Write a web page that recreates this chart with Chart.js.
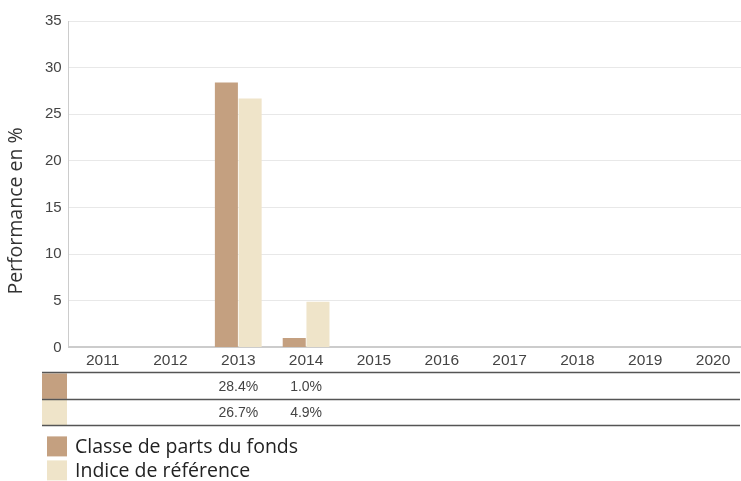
<!DOCTYPE html>
<html>
<head>
<meta charset="utf-8">
<script src="https://cdn.jsdelivr.net/npm/chart.js@4.4.0/dist/chart.umd.min.js"></script>
<style>
    html, body { margin: 0; padding: 0; background: #fff; }
    #wrap { width: 741px; height: 481px; position: relative; overflow: hidden; }
</style>
</head>
<body>
<div id="wrap"><canvas id="chart" width="747" height="481"></canvas></div>
<script>
var years = ['2011', '2012', '2013', '2014', '2015', '2016', '2017', '2018', '2019', '2020'];
var fundValues = [null, null, 28.4, 1.0, null, null, null, null, null, null];
var indexValues = [null, null, 26.7, 4.9, null, null, null, null, null, null];
var seriesNames = ['Classe de parts du fonds', 'Indice de référence'];
var seriesColors = ['#c4a080', '#efe4c9'];
var axisTitle = 'Performance en %';

// y title, table under the axis + legend, drawn on the canvas
var tablePlugin = {
    id: 'perfTable',
    afterDraw: function (chart) {
        var ctx = chart.ctx;
        var x = chart.scales.x;
        var area = chart.chartArea;
        var top = area.bottom + 25;
        var rowH = 26.5;
        var left = 42;
        var right = 740;

        ctx.save();
        // axis title
        ctx.save();
        ctx.translate(16, 211);
        ctx.rotate(-Math.PI / 2);
        ctx.font = '19.5px "Open Sans", sans-serif';
        ctx.fillStyle = '#333';
        ctx.textAlign = 'center';
        ctx.textBaseline = 'middle';
        ctx.fillText(axisTitle, 0, 0);
        ctx.restore();

        chart.data.datasets.forEach(function (ds, i) {
            var y0 = top + i * rowH;
            ctx.fillStyle = ds.backgroundColor;
            ctx.fillRect(left, y0 + 1, 25, rowH - 1);

            ctx.font = '14px "Liberation Sans", Arial, sans-serif';
            ctx.fillStyle = '#444';
            ctx.textAlign = 'center';
            ctx.textBaseline = 'middle';
            ds.data.forEach(function (v, j) {
                if (v === null) return;
                ctx.fillText(v.toFixed(1) + '%', x.getPixelForValue(j), y0 + rowH / 2 + 1);
            });
        });

        ctx.strokeStyle = '#555';
        ctx.lineWidth = 1.5;
        for (var k = 0; k <= chart.data.datasets.length; k++) {
            var ly = Math.round(top + k * rowH) + 0.5;
            ctx.beginPath();
            ctx.moveTo(left, ly);
            ctx.lineTo(right, ly);
            ctx.stroke();
        }

        // legend
        var ly0 = top + chart.data.datasets.length * rowH + 11;
        chart.data.datasets.forEach(function (ds, i) {
            var yy = ly0 + i * 24;
            ctx.fillStyle = ds.backgroundColor;
            ctx.fillRect(47, yy, 20, 20);
            ctx.fillStyle = '#222';
            ctx.font = '19.5px "Open Sans", sans-serif';
            ctx.textAlign = 'left';
            ctx.textBaseline = 'middle';
            ctx.fillText(ds.label, 75, yy + 11);
        });
        ctx.restore();
    }
};

var ctx = document.getElementById('chart');
var myChart = new Chart(ctx, {
    type: 'bar',
    data: {
        labels: years,
        datasets: [
            {
                label: seriesNames[0],
                data: fundValues,
                backgroundColor: seriesColors[0],
                barPercentage: 0.97,
                categoryPercentage: 0.7
            },
            {
                label: seriesNames[1],
                data: indexValues,
                backgroundColor: seriesColors[1],
                barPercentage: 0.97,
                categoryPercentage: 0.7
            }
        ]
    },
    options: {
        responsive: false,
        animation: false,
        layout: {
            padding: { top: 21, right: 0, bottom: 107, left: 38 }
        },
        plugins: {
            legend: { display: false },
            tooltip: { enabled: false }
        },
        scales: {
            x: {
                grid: { display: false, drawTicks: false },
                border: { color: '#ccc', width: 2 },
                ticks: {
                    color: '#444',
                    padding: 4,
                    font: { family: '"Liberation Sans", Arial, sans-serif', size: 15.5 }
                }
            },
            y: {
                min: 0,
                max: 35,
                ticks: {
                    stepSize: 5,
                    color: '#444',
                    padding: 7,
                    font: { family: '"Liberation Sans", Arial, sans-serif', size: 15 }
                },
                grid: { color: '#e8e8e8', drawTicks: false },
                border: { color: '#ccc', width: 1 }
            }
        }
    },
    plugins: [tablePlugin]
});
</script>
</body>
</html>
